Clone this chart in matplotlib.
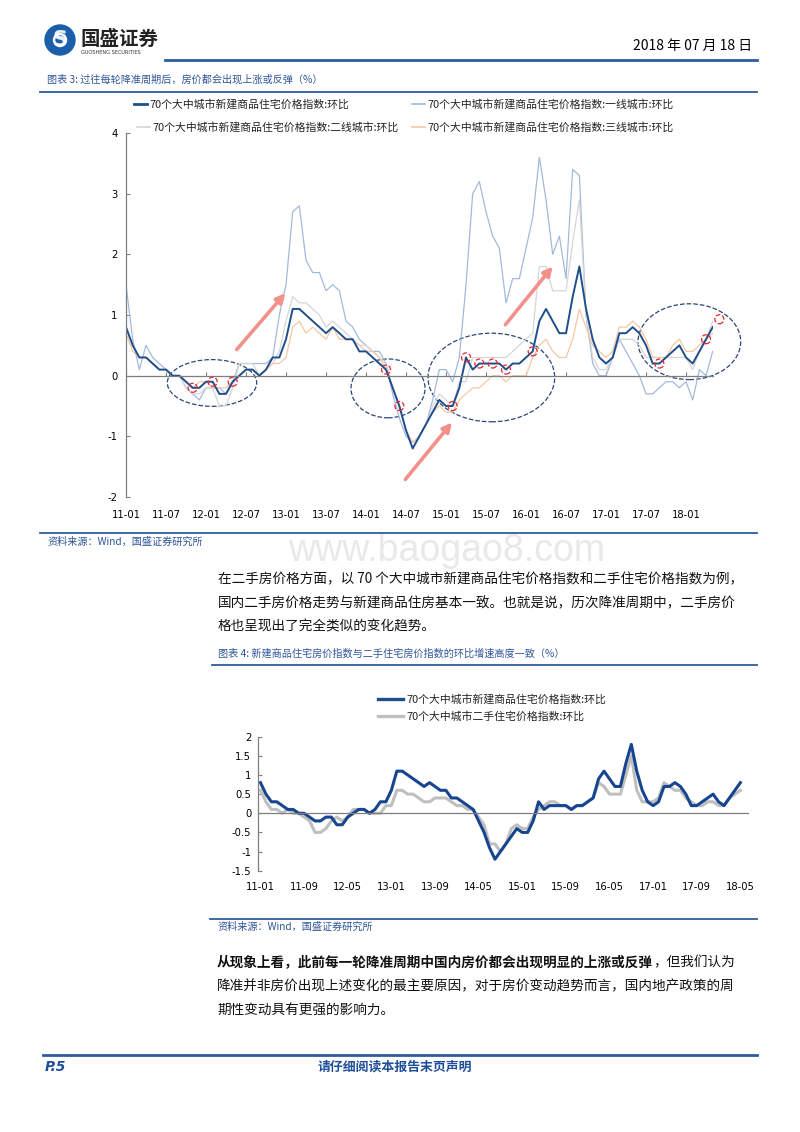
import matplotlib
matplotlib.use('Agg')
from matplotlib import pyplot as plt
from matplotlib.patches import Ellipse, Circle

plt.rcParams['font.family'] = ['Noto Sans CJK SC', 'DejaVu Sans']
plt.rcParams['axes.unicode_minus'] = False

# monthly values, 2011-01 .. 2018-05 (89 months)
new_home = [0.8, 0.5, 0.3, 0.3, 0.2, 0.1, 0.1, 0.0, 0.0, -0.1, -0.2, -0.2,
            -0.1, -0.1, -0.3, -0.3, -0.1, 0.0, 0.1, 0.1, 0.0, 0.1, 0.3, 0.3,
            0.6, 1.1, 1.1, 1.0, 0.9, 0.8, 0.7, 0.8, 0.7, 0.6, 0.6, 0.4,
            0.4, 0.3, 0.2, 0.1, -0.2, -0.5, -0.9, -1.2, -1.0, -0.8, -0.6, -0.4,
            -0.5, -0.5, -0.2, 0.3, 0.1, 0.2, 0.2, 0.2, 0.2, 0.1, 0.2, 0.2,
            0.3, 0.4, 0.9, 1.1, 0.9, 0.7, 0.7, 1.3, 1.8, 1.1, 0.6, 0.3,
            0.2, 0.3, 0.7, 0.7, 0.8, 0.7, 0.5, 0.2, 0.2, 0.3, 0.4, 0.5,
            0.3, 0.2, 0.4, 0.6, 0.8]
tier1 = [1.5, 0.6, 0.1, 0.5, 0.3, 0.2, 0.1, 0.0, 0.0, -0.2, -0.3, -0.4,
         -0.2, -0.2, -0.2, -0.3, -0.1, 0.2, 0.2, 0.2, 0.2, 0.2, 0.3, 1.0,
         1.5, 2.7, 2.8, 1.9, 1.7, 1.7, 1.4, 1.5, 1.4, 0.9, 0.8, 0.6,
         0.5, 0.4, 0.4, 0.2, -0.3, -0.7, -1.0, -1.1, -1.0, -0.8, -0.4, 0.1,
         0.1, -0.1, 0.3, 1.5, 3.0, 3.2, 2.7, 2.3, 2.1, 1.2, 1.6, 1.6,
         2.1, 2.6, 3.6, 2.9, 2.0, 2.3, 1.6, 3.4, 3.3, 1.0, 0.2, 0.0,
         0.0, 0.3, 0.6, 0.4, 0.2, 0.0, -0.3, -0.3, -0.2, -0.1, -0.1, -0.2,
         -0.1, -0.4, 0.1, 0.0, 0.4]
tier2 = [0.8, 0.5, 0.3, 0.3, 0.2, 0.1, 0.1, 0.0, 0.0, -0.2, -0.3, -0.3,
         -0.2, -0.2, -0.5, -0.5, -0.2, 0.2, 0.2, 0.2, 0.0, 0.1, 0.2, 0.4,
         0.9, 1.3, 1.2, 1.2, 1.1, 1.0, 0.8, 0.9, 0.8, 0.7, 0.6, 0.5,
         0.5, 0.4, 0.3, 0.2, -0.2, -0.5, -0.9, -1.2, -1.0, -0.8, -0.5, -0.3,
         -0.4, -0.5, -0.1, -0.1, 0.3, 0.3, 0.3, 0.3, 0.3, 0.3, 0.4, 0.5,
         0.6, 0.7, 1.8, 1.8, 1.4, 1.4, 1.4, 2.2, 2.9, 1.0, 0.3, 0.1,
         0.1, 0.3, 0.6, 0.6, 0.6, 0.5, 0.3, 0.3, 0.3, 0.3, 0.3, 0.3,
         0.3, 0.1, 0.4, 0.6, 0.9]
tier3 = [0.7, 0.4, 0.3, 0.3, 0.2, 0.1, 0.1, 0.0, 0.0, -0.1, -0.2, -0.1,
         -0.1, -0.2, -0.2, -0.2, -0.1, 0.0, 0.1, 0.1, 0.0, 0.1, 0.2, 0.2,
         0.3, 0.8, 0.9, 0.7, 0.8, 0.7, 0.6, 0.8, 0.6, 0.6, 0.6, 0.5,
         0.4, 0.4, 0.3, 0.1, -0.2, -0.5, -0.9, -1.1, -1.0, -0.8, -0.6, -0.5,
         -0.6, -0.6, -0.4, -0.3, -0.2, -0.2, -0.1, 0.0, 0.0, -0.1, 0.0, 0.0,
         0.0, 0.3, 0.5, 0.6, 0.4, 0.3, 0.3, 0.6, 1.1, 0.8, 0.5, 0.4,
         0.3, 0.4, 0.8, 0.8, 0.9, 0.8, 0.6, 0.3, 0.3, 0.3, 0.5, 0.6,
         0.4, 0.4, 0.5, 0.6, 0.7]
second_hand = [0.6, 0.3, 0.1, 0.1, 0.0, 0.1, 0.0, 0.0, -0.1, -0.2, -0.5, -0.5,
               -0.4, -0.2, -0.1, -0.2, -0.1, 0.1, 0.1, 0.1, 0.0, 0.0, 0.0, 0.2,
               0.2, 0.6, 0.6, 0.5, 0.5, 0.4, 0.3, 0.3, 0.4, 0.4, 0.4, 0.3,
               0.2, 0.2, 0.1, 0.1, -0.1, -0.3, -0.8, -0.8, -1.0, -0.8, -0.4, -0.3,
               -0.4, -0.4, -0.1, 0.1, 0.2, 0.3, 0.3, 0.2, 0.2, 0.1, 0.2, 0.2,
               0.3, 0.4, 0.8, 0.7, 0.5, 0.5, 0.5, 1.0, 1.5, 0.6, 0.3, 0.3,
               0.3, 0.4, 0.8, 0.7, 0.6, 0.6, 0.4, 0.3, 0.2, 0.2, 0.3, 0.3,
               0.2, 0.2, 0.4, 0.5, 0.6]
months = [f'{11 + i // 12:02d}-{i % 12 + 1:02d}' for i in range(len(new_home))]

# highlighted months (index into series) and the 2018-06 marker
circle_idx = [10, 13, 16, 39, 41, 49, 51, 53, 55, 57, 61, 80, 87]
extra_circle = (89, 0.93)
# annotation shapes in data units: (center x, center y, width, height)
ellipses = [(12.9, -0.12, 13.4, 0.77), (39.3, -0.21, 11.1, 0.97),
            (54.8, -0.03, 19.0, 1.46), (84.5, 0.56, 15.4, 1.25)]
arrows = [((16.6, 0.43), (23.9, 1.36)), ((41.9, -1.71), (48.9, -0.77)),
          ((56.9, 0.84), (64.0, 1.80))]

names1 = ['70个大中城市新建商品住宅价格指数:环比',
          '70个大中城市新建商品住宅价格指数:一线城市:环比',
          '70个大中城市新建商品住宅价格指数:二线城市:环比',
          '70个大中城市新建商品住宅价格指数:三线城市:环比']
names2 = ['70个大中城市新建商品住宅价格指数:环比',
          '70个大中城市二手住宅价格指数:环比']

NAVY = '#1F4E8C'
C_T1 = '#A3B9DC'
C_T2 = '#D6D6D6'
C_T3 = '#F6C7A6'
BLUE_TXT = '#2F5597'
RULE = '#2E5C9E'

fig = plt.figure(figsize=(8, 11.32), dpi=100)
page = fig.add_axes([0, 0, 1, 1])
page.set_xlim(0, 800)
page.set_ylim(1132, 0)
page.axis('off')


def px_axes(left, top, right, bottom):
	return fig.add_axes([left / 800, 1 - bottom / 1132, (right - left) / 800, (bottom - top) / 1132])


# header
page.add_patch(Circle((60, 40), 15, color='#1B5FAA'))
page.add_patch(Circle((60, 40), 6.5, color='white'))
page.add_patch(Circle((60, 40), 4, color='#1B5FAA'))
page.text(60, 40, 'S', color='white', fontsize=15, fontweight='bold', ha='center', va='center',
          family='DejaVu Sans', alpha=0.9)
page.text(80, 39, '国盛证券', fontsize=14, fontweight='bold', color='#222222', va='center')
page.text(81, 53, 'GUOSHENG SECURITIES', fontsize=3.6, color='#333333', va='center', family='DejaVu Sans')
page.text(752, 46, '2018 年 07 月 18 日', fontsize=10, ha='right', va='center')
page.plot([165, 757], [59.5, 59.5], color=RULE, lw=2)

# chart 3 title and rules
page.text(47, 80, '图表 3: 过往每轮降准周期后，房价都会出现上涨或反弹（%）', fontsize=7.3,
          color=BLUE_TXT, va='center', style='italic')
page.plot([40, 757], [91.5, 91.5], color=RULE, lw=1.3)
page.plot([40, 757], [533, 533], color=RULE, lw=1.3)
page.text(47, 542, '资料来源：Wind，国盛证券研究所', fontsize=7.3, color=BLUE_TXT, va='center', style='italic')

# legend chart 3
legend_pos = [(134, 104), (412, 104), (137, 127), (412, 127)]
legend_col = [NAVY, C_T1, C_T2, C_T3]
for (lx, ly), col, name in zip(legend_pos, legend_col, names1):
	page.plot([lx, lx + 13], [ly, ly], color=col, lw=2 if col == NAVY else 1.2)
	page.text(lx + 15, ly, name, fontsize=7.8, va='center', color='#222222')

# chart 3
ax1 = px_axes(126, 133, 712.7, 497)
x = list(range(len(new_home)))
ax1.plot(x, tier1, color=C_T1, lw=0.9)
ax1.plot(x, tier2, color=C_T2, lw=0.9)
ax1.plot(x, tier3, color=C_T3, lw=0.9)
ax1.plot(x, new_home, color=NAVY, lw=1.4)
ax1.scatter([i for i in circle_idx] + [extra_circle[0]],
            [new_home[i] for i in circle_idx] + [extra_circle[1]],
            s=42, facecolors='none', edgecolors='#E5262B', linestyles='--', linewidths=0.9,
            zorder=5, clip_on=False)
for cx, cy, w, h in ellipses:
	ax1.add_patch(Ellipse((cx, cy), w, h, fill=False, ls='--', lw=0.9, ec='#2B4677', clip_on=False))
for tail, head in arrows:
	ax1.annotate('', xy=head, xytext=tail,
	             arrowprops=dict(arrowstyle='-|>', lw=2.6, color='#F4908A', mutation_scale=13,
	                             shrinkA=0, shrinkB=0))
ax1.set_xlim(0, 88)
ax1.set_ylim(-2, 4)
ax1.spines[['top', 'right']].set_visible(False)
ax1.spines['bottom'].set_position(('data', 0))
for s in ['left', 'bottom']:
	ax1.spines[s].set_color('#7F7F7F')
	ax1.spines[s].set_linewidth(0.9)
ax1.set_xticks(range(0, 88, 6))
ax1.tick_params(axis='x', direction='in', length=3, labelbottom=False, color='#7F7F7F')
ax1.set_yticks(range(-2, 5))
ax1.tick_params(axis='y', direction='in', length=3, color='#7F7F7F', labelsize=7.2, pad=6)
for lab in ax1.get_yticklabels():
	lab.set_family('DejaVu Sans')
sec1 = ax1.secondary_xaxis(0)
sec1.set_xticks(range(0, 88, 6), [months[i] for i in range(0, 88, 6)])
sec1.tick_params(length=0, labelsize=7.2, pad=9)
sec1.spines['bottom'].set_visible(False)
for lab in sec1.get_xticklabels():
	lab.set_family('DejaVu Sans')

# watermark
page.text(447, 551, 'www.baogao8.com', fontsize=27, color='#E9E9E9', ha='center', va='center',
          family='Liberation Sans', zorder=0)

# paragraph 1
para1 = ['在二手房价格方面，以 70 个大中城市新建商品住宅价格指数和二手住宅价格指数为例，',
         '国内二手房价格走势与新建商品住房基本一致。也就是说，历次降准周期中，二手房价',
         '格也呈现出了完全类似的变化趋势。']
for i, line in enumerate(para1):
	page.text(218, 579 + 24 * i, line, fontsize=9.8, va='center', color='#111111')

# chart 4 title
page.text(218, 654, '图表 4: 新建商品住宅房价指数与二手住宅房价指数的环比增速高度一致（%）', fontsize=7.3,
          color=BLUE_TXT, va='center', style='italic')
page.plot([212, 757], [664.5, 664.5], color=RULE, lw=1.3)

for (ly, col, name) in zip([699, 716], [NAVY, '#BFBFBF'], names2):
	page.plot([378, 403], [ly, ly], color=col, lw=2.4)
	page.text(406, ly, name, fontsize=7.8, va='center', color='#222222')

ax2 = px_axes(258.3, 736.7, 748, 870.7)
ax2.plot(x, second_hand, color='#BFBFBF', lw=2.2)
ax2.plot(x, new_home, color='#17458F', lw=2.2)
ax2.set_xlim(-0.4, 89.4)
ax2.set_ylim(-1.5, 2)
ax2.spines[['top', 'right']].set_visible(False)
ax2.spines['bottom'].set_position(('data', 0))
for s in ['left', 'bottom']:
	ax2.spines[s].set_color('#7F7F7F')
	ax2.spines[s].set_linewidth(0.9)
ax2.set_xticks(range(0, 89, 8))
ax2.tick_params(axis='x', length=0, labelbottom=False)
yt = [-1.5, -1, -0.5, 0, 0.5, 1, 1.5, 2]
ax2.set_yticks(yt, [f'{v:g}' for v in yt])
ax2.tick_params(axis='y', direction='in', length=3, color='#7F7F7F', labelsize=7.2, pad=5)
for lab in ax2.get_yticklabels():
	lab.set_family('DejaVu Sans')
sec2 = ax2.secondary_xaxis(0)
sec2.set_xticks(range(0, 89, 8), [months[i] for i in range(0, 89, 8)])
sec2.tick_params(length=0, labelsize=7.2, pad=8)
sec2.spines['bottom'].set_visible(False)
for lab in sec2.get_xticklabels():
	lab.set_family('DejaVu Sans')

page.plot([210, 757], [919, 919], color=RULE, lw=1.3)
page.text(217, 927, '资料来源：Wind，国盛证券研究所', fontsize=7.3, color=BLUE_TXT, va='center', style='italic')

# paragraph 2
renderer = fig.canvas.get_renderer()
bold = page.text(217, 962, '从现象上看，此前每一轮降准周期中国内房价都会出现明显的上涨或反弹', fontsize=9.8,
                 fontweight='bold', va='center', color='#111111')
bb = bold.get_window_extent(renderer)
inv = page.transData.inverted()
end_x = inv.transform((bb.x1, bb.y0))[0]
page.text(end_x, 962, '，但我们认为', fontsize=9.8, va='center', color='#111111')
para2 = ['降准并非房价出现上述变化的最主要原因，对于房价变动趋势而言，国内地产政策的周',
         '期性变动具有更强的影响力。']
for i, line in enumerate(para2):
	page.text(217, 986 + 24 * i, line, fontsize=9.8, va='center', color='#111111')

# footer
page.plot([43, 757], [1055, 1055], color=RULE, lw=2)
page.text(45, 1067, 'P.5', fontsize=10, fontweight='bold', style='italic', color='#1F4E9A',
          va='center', family='DejaVu Sans')
page.text(318, 1067, '请仔细阅读本报告末页声明', fontsize=9.3, fontweight='bold', color='#1F4E9A', va='center')

fig.savefig('out.png', dpi=100)
